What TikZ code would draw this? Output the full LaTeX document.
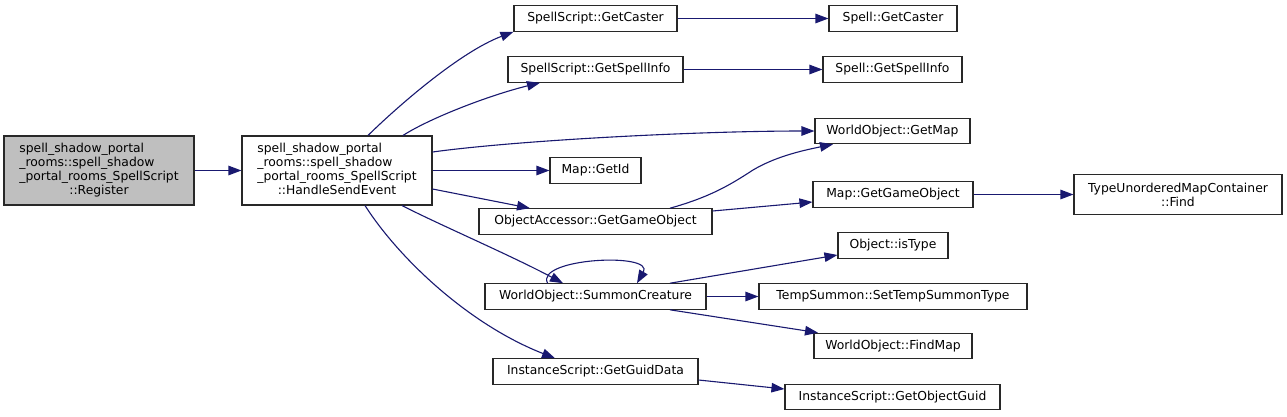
\documentclass[tikz,border=0pt]{standalone}
\usepackage{fontspec}
\setmainfont{DejaVu Sans}
\usetikzlibrary{arrows.meta,calc}
\definecolor{edgecol}{RGB}{25,25,112}
\definecolor{boxborder}{RGB}{40,40,40}
\definecolor{grayfill}{RGB}{191,191,191}
\begin{document}
\begin{tikzpicture}[x=1bp,y=-1bp,
  box/.style={draw=boxborder, line width=1.1bp, fill=white, inner sep=0pt,
    minimum height=25.5bp, font=\fontsize{12.4}{14.2}\selectfont},
  edge/.style={draw=edgecol, line width=1.1bp, -{Triangle[length=13bp,width=9.5bp]}}]
\useasboundingbox[fill=white] (0,0) rectangle (1287,416);

% nodes
\node[box, fill=grayfill, minimum width=190bp, minimum height=69bp] (reg) at (99,170.5)
  {\begin{tabular}{@{}l@{}}spell\_shadow\_portal\\\_rooms::spell\_shadow\\\_portal\_rooms\_SpellScript\\\multicolumn{1}{@{}c@{}}{::Register}\end{tabular}};
\node[box, minimum width=190bp, minimum height=69bp] (hse) at (337,170.5)
  {\begin{tabular}{@{}l@{}}spell\_shadow\_portal\\\_rooms::spell\_shadow\\\_portal\_rooms\_SpellScript\\\multicolumn{1}{@{}c@{}}{::HandleSendEvent}\end{tabular}};
\node[box, minimum width=163bp] (gc) at (595.5,18.5) {SpellScript::GetCaster};
\node[box, minimum width=128bp] (sgc) at (893,18.5) {Spell::GetCaster};
\node[box, minimum width=175bp] (gsi) at (595.5,69.5) {SpellScript::GetSpellInfo};
\node[box, minimum width=139bp] (sgsi) at (892.5,69.5) {Spell::GetSpellInfo};
\node[box, minimum width=155bp] (gm) at (892.5,131) {WorldObject::GetMap};
\node[box, minimum width=91bp] (gid) at (595.5,170.5) {Map::GetId};
\node[box, minimum width=233bp] (oa) at (595.5,221.5) {ObjectAccessor::GetGameObject};
\node[box, minimum width=160bp] (mgo) at (893,194.5) {Map::GetGameObject};
\node[box, minimum width=208bp, minimum height=40bp, align=center] (tum) at (1178,194.5)
  {TypeUnorderedMapContainer\\::Find};
\node[box, minimum width=110bp] (ist) at (893,245.5) {Object::isType};
\node[box, minimum width=221bp] (sc) at (595.5,296.5) {WorldObject::SummonCreature};
\node[box, minimum width=268bp] (tst) at (893,296.5) {TempSummon::SetTempSummonType};
\node[box, minimum width=158bp] (fm) at (893,346) {WorldObject::FindMap};
\node[box, minimum width=205bp] (ggd) at (595.5,371.5) {InstanceScript::GetGuidData};
\node[box, minimum width=215bp] (gog) at (892.5,397) {InstanceScript::GetObjectGuid};

% edges
\draw[edge] (reg) -- (hse);
\draw[edge] ($(hse.north)+(31,0)$) .. controls (398,106) and (460,52) .. (gc.south west);
\draw[edge] ($(hse.north)+(66,0)$) .. controls (430,118) and (490,95) .. ($(gsi.south)+(-55.5,0)$);
\draw[edge] ($(hse.east)+(0,-18.5)$) .. controls (520,140) and (700,131) .. (gm.west);
\draw[edge] (hse.east) -- (gid.west);
\draw[edge] ($(hse.east)+(0,18.5)$) -- ($(oa.north)+(-65.5,0)$);
\draw[edge] ($(hse.south)+(65,0)$) .. controls (440,225) and (510,255) .. ($(sc.north)+(-32.5,0)$);
\draw[edge] ($(hse.south)+(28,0)$) .. controls (400,260) and (470,325) .. ($(ggd.north)+(-40.5,0)$);
\draw[edge] (gc) -- (sgc);
\draw[edge] (gsi) -- (sgsi);
\draw[edge] ($(oa.north)+(74.5,0)$) .. controls (710,197) and (730,185) .. (753,170)
  .. controls (775,157) and (800,151) .. ($(gm.south)+(-59.5,0)$);
\draw[edge] ($(oa.east)+(0,-10.5)$) -- ($(mgo.west)+(0,7.5)$);
\draw[edge] (mgo.east) -- (mgo.east -| tum.west);
\draw[edge] ($(sc.north)+(-48,0)$) .. controls (535,258) and (655,252) .. ($(sc.north)+(41.5,0)$);
\draw[edge] ($(sc.north)+(74.5,0)$) -- ($(ist.west)+(0,9.5)$);
\draw[edge] (sc) -- (tst);
\draw[edge] ($(sc.south)+(74.5,0)$) -- ($(fm.north)+(-75,0)$);
\draw[edge] ($(ggd.east)+(0,8.5)$) -- ($(gog.west)+(0,-8)$);
\end{tikzpicture}
\end{document}
